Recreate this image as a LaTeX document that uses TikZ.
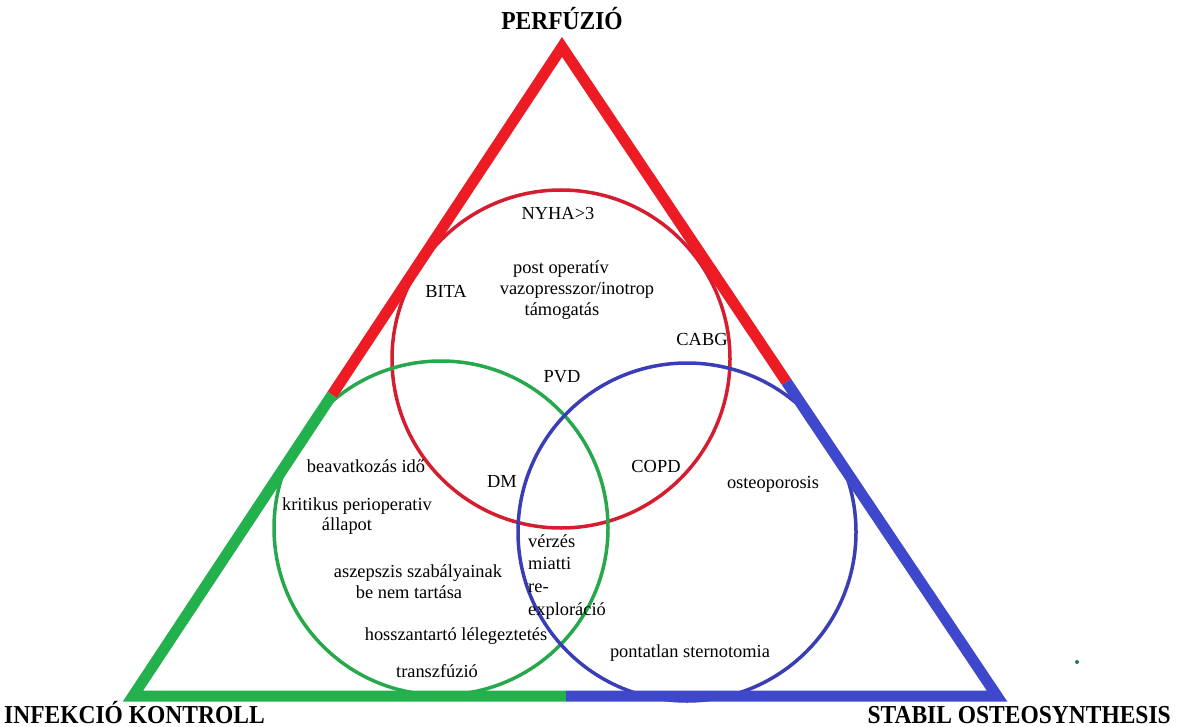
\documentclass[tikz,border=0pt]{standalone}
\usepackage{fontspec}
\usepackage{graphicx}
\setmainfont{Liberation Serif}
\usetikzlibrary{calc}
\definecolor{tred}{RGB}{237,28,36}
\definecolor{tgreen}{RGB}{34,177,76}
\definecolor{tblue}{RGB}{63,72,204}
\definecolor{cred}{RGB}{212,30,48}
\definecolor{cgreen}{RGB}{40,168,76}
\definecolor{cblue}{RGB}{58,62,180}
\definecolor{dotgreen}{RGB}{40,120,80}
\begin{document}
\begin{tikzpicture}[x=1pt,y=-1pt,
  lbl/.style={font=\fontsize{18.4}{20}\selectfont, inner sep=0pt, anchor=base},
  lbll/.style={lbl, anchor=base west},
  head/.style={font=\fontsize{23.5}{26}\selectfont\bfseries, inner sep=0pt, anchor=base},
  side/.style={line width=11pt, line join=miter},
  ring/.style={line width=3.5pt}]
\useasboundingbox (0,0) rectangle (1177,727);

% circles
\draw[ring, cred]   (561,359) circle[radius=169pt];
\draw[ring, cgreen] (441,528) circle[radius=167pt];
\draw[ring, cblue]  (687,532) circle[radius=169pt];

% triangle
\coordinate (apex) at (562,47);
\coordinate (bl) at (133,696);
\coordinate (br) at (997,696);
\coordinate (jl) at ($(apex)!0.536!(bl)$);
\coordinate (jr) at ($(apex)!0.516!(br)$);
\coordinate (jb) at (566,696);
\draw[side, tred]   (jl) -- (apex) -- (jr);
\draw[side, tgreen] (jl) -- (bl) -- (jb);
\draw[side, tblue]  (jb) -- (br) -- (jr);

% stray dot
\fill[dotgreen] (1077,662) circle[radius=2pt];

% headings
\node[head] (perf) at (562,30) {\scalebox{1}[1.1]{PERFÚZIÓ}};
\node[head, anchor=base west] (infk) at (4,723) {\scalebox{1}[1.1]{INFEKCIÓ KONTROLL}};
\node[head, anchor=base east] (stab) at (1171,723) {\scalebox{1}[1.1]{STABIL OSTEOSYNTHESIS}};

% labels
\node[lbl] (nyha) at (558,220) {NYHA>3};
\node[lbl] (post1) at (561,273) {post operatív};
\node[lbl] (post2) at (577,294) {vazopresszor/inotrop};
\node[lbl] (post3) at (562,315) {támogatás};
\node[lbl] (bita) at (446,297) {BITA};
\node[lbl] (cabg) at (702,345) {CABG};
\node[lbl] (pvd) at (562,382) {PVD};
\node[lbl] (beav) at (366,472) {beavatkozás idő};
\node[lbl] (dm) at (502,487) {DM};
\node[lbl] (copd) at (656,472) {COPD};
\node[lbl] (osteo) at (773,488) {osteoporosis};
\node[lbl] (krit1) at (357,510) {kritikus perioperativ};
\node[lbl] (krit2) at (347,530) {állapot};
\node[lbl] (asz1) at (418,577) {aszepszis szabályainak};
\node[lbl] (asz2) at (409,598) {be nem tartása};
\node[lbll] (verz1) at (528,547) {vérzés};
\node[lbll] (verz2) at (528,569) {miatti};
\node[lbll] (verz3) at (528,592) {re-};
\node[lbll] (verz4) at (528,615) {exploráció};
\node[lbl] (hossz) at (456,640) {hosszantartó lélegeztetés};
\node[lbl] (pont) at (690,657) {pontatlan sternotomia};
\node[lbl] (trans) at (437,677) {transzfúzió};
\end{tikzpicture}
\end{document}
